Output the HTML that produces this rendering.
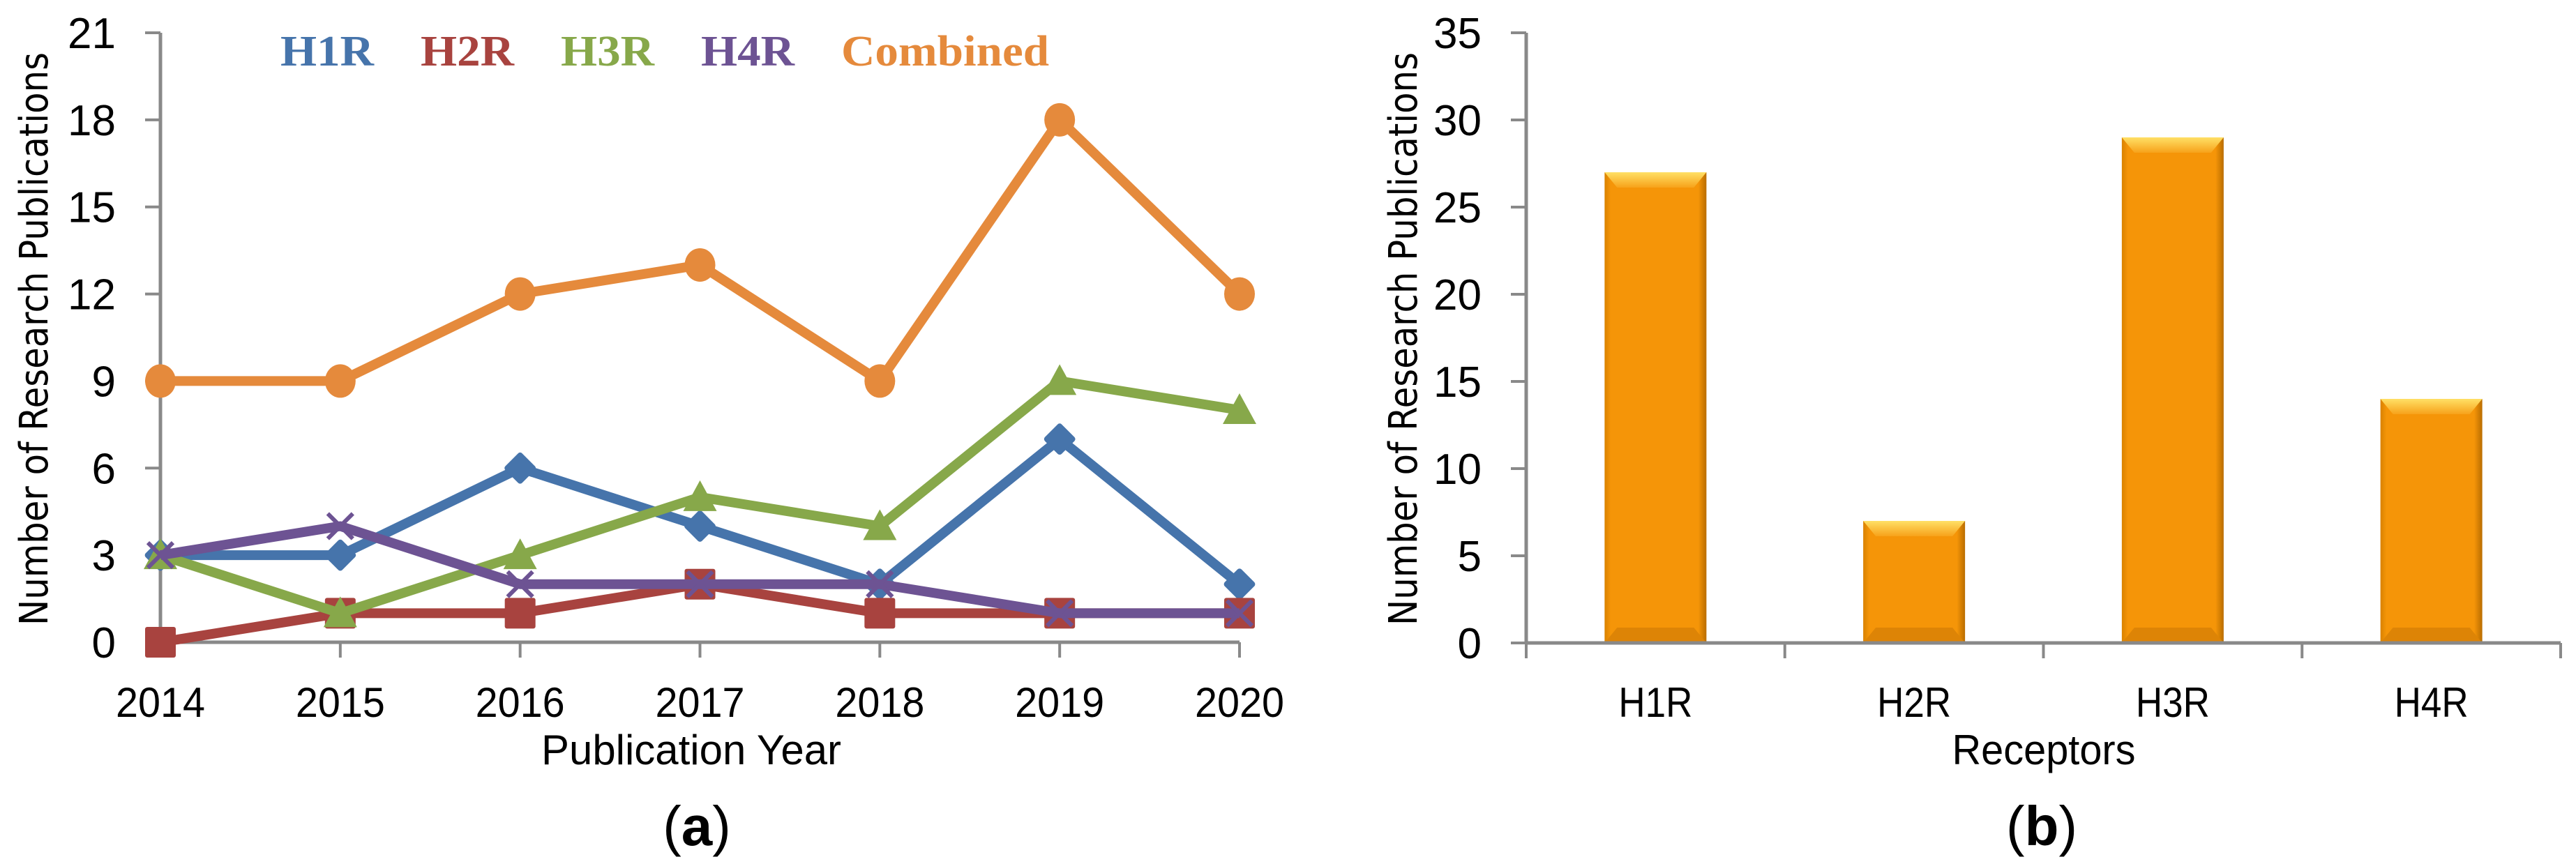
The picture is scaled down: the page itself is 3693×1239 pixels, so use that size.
<!DOCTYPE html>
<html><head><meta charset="utf-8"><style>
html,body{margin:0;padding:0;background:#fff;}
svg{display:block;}
</style></head><body>
<svg id="fig" width="3693" height="1239" viewBox="0 0 3693 1239" xmlns="http://www.w3.org/2000/svg">
<defs>
<linearGradient id="barH" x1="0" y1="0" x2="1" y2="0">
<stop offset="0" stop-color="#d98200"/><stop offset="0.06" stop-color="#f59508"/><stop offset="0.92" stop-color="#f59508"/><stop offset="1" stop-color="#b96d00"/>
</linearGradient>
<linearGradient id="barTop" x1="0" y1="0" x2="0" y2="1">
<stop offset="0" stop-color="#ffe066"/><stop offset="1" stop-color="#f7a21a"/>
</linearGradient>
</defs>
<g id="chartA"></g>
<g id="chartB"></g>
</svg>
<script>
const years = ["2014","2015","2016","2017","2018","2019","2020"];
const yTicksA = [0,3,6,9,12,15,18,21];
const h1r = [3,3,6,4,2,7,2];
const h2r = [0,1,1,2,1,1,1];
const h3r = [3,1,3,5,4,9,8];
const h4r = [3,4,2,2,2,1,1];
const combined = [9,9,12,13,9,18,12];
const seriesNames = ["H1R","H2R","H3R","H4R","Combined"];
const receptors = ["H1R","H2R","H3R","H4R"];
const receptorCounts = [27,7,29,14];
const yTicksB = [0,5,10,15,20,25,30,35];

const NS="http://www.w3.org/2000/svg";
function mk(parent, tag, attrs, text){
  const e=document.createElementNS(NS,tag);
  for(const k in attrs) e.setAttribute(k,attrs[k]);
  if(text!==undefined) e.textContent=text;
  parent.appendChild(e); return e;
}
const FONT='"Liberation Sans", sans-serif';

// ---------- Chart A ----------
const A=document.getElementById('chartA');
const ax0=230, ax1=1777, ay0=921, ayTop=47, aMax=21;
const xA=i=>ax0+(ax1-ax0)*i/(years.length-1);
const yA=v=>ay0-(ay0-ayTop)*v/aMax;
let e;
e=mk(A,'line',{x1:ax0,y1:ayTop,x2:ax0,y2:ay0,stroke:'#898989','stroke-width':5});


e=mk(A,'line',{x1:ax0,y1:ay0,x2:ax1,y2:ay0,stroke:'#898989','stroke-width':5});


yTicksA.forEach(v=>{
  e=mk(A,'line',{x1:ax0-22,y1:yA(v),x2:ax0,y2:yA(v),stroke:'#898989','stroke-width':4});
  
  
  e=mk(A,'text',{x:166,y:yA(v)+22,'text-anchor':'end','font-family':FONT,'font-size':62},String(v));
  
  
});
years.forEach((yr,i)=>{
  e=mk(A,'line',{x1:xA(i),y1:ay0,x2:xA(i),y2:ay0+22,stroke:'#898989','stroke-width':4});
  
  
  e=mk(A,'text',{x:xA(i),y:1028,'text-anchor':'middle','font-family':FONT,'font-size':60,textLength:128,lengthAdjust:'spacingAndGlyphs'},yr);
  
  
});
e=mk(A,'text',{x:68,y:486,transform:'rotate(-90 68 486)','text-anchor':'middle','font-family':'"DejaVu Sans", sans-serif','font-size':56,textLength:822,lengthAdjust:'spacingAndGlyphs'},'Number of Research Publications');


e=mk(A,'text',{x:991,y:1096,'text-anchor':'middle','font-family':FONT,'font-size':60,textLength:430,lengthAdjust:'spacingAndGlyphs'},'Publication Year');


e=mk(A,'text',{x:999,y:1212,'text-anchor':'middle','font-family':FONT,'font-size':80});


mk(e,'tspan',{},'(');mk(e,'tspan',{'font-weight':'bold'},'a');mk(e,'tspan',{},')');

const colors={H1R:'#4674ab',H2R:'#a8433f',H3R:'#87a84a',H4R:'#6d5393',Combined:'#e58a3c'};
const data={H1R:h1r,H2R:h2r,H3R:h3r,H4R:h4r,Combined:combined};
function marker(g,name,x,y,c){
  let m;
  if(name==='H1R') m=mk(g,'rect',{x:x-17,y:y-17,width:34,height:34,rx:4,fill:c,transform:`rotate(45 ${x} ${y})`});
  else if(name==='H2R') m=mk(g,'rect',{x:x-22,y:y-22,width:44,height:44,rx:3,fill:c});
  else if(name==='H3R') m=mk(g,'polygon',{points:`${x},${y-24} ${x+24},${y+20} ${x-24},${y+20}`,fill:c});
  else if(name==='H4R') m=mk(g,'path',{d:`M${x-18},${y-18}L${x+18},${y+18}M${x+18},${y-18}L${x-18},${y+18}`,stroke:c,'stroke-width':6,fill:'none'});
  else m=mk(g,'ellipse',{cx:x,cy:y,rx:22,ry:24,fill:c});
  
  
}
seriesNames.forEach(name=>{
  const vals=data[name], c=colors[name];
  const g=mk(A,'g',{});
  
  
  const pts=vals.map((v,i)=>xA(i)+','+yA(v)).join(' ');
  const pl=mk(g,'polyline',{points:pts,fill:'none',stroke:c,'stroke-width':14,'stroke-linejoin':'round'});
  
  
  vals.forEach((v,i)=>marker(g,name,xA(i),yA(v),c));
});
const legendX=[402,603,804,1005,1206];
seriesNames.forEach((name,i)=>{
  e=mk(A,'text',{x:legendX[i],y:94,'font-family':'"Liberation Serif", serif','font-weight':'bold','font-size':62,fill:colors[name],textLength:name==='Combined'?298:134,lengthAdjust:'spacingAndGlyphs'},name);
  
  
});

// ---------- Chart B ----------
const B=document.getElementById('chartB');
const bx0=2188, bx1=3671, by0=922, byTop=47, bMax=35;
const catW=(bx1-bx0)/receptors.length;
const yB=v=>by0-(by0-byTop)*v/bMax;
e=mk(B,'line',{x1:bx0,y1:byTop,x2:bx0,y2:by0,stroke:'#898989','stroke-width':5});


yTicksB.forEach(v=>{
  e=mk(B,'line',{x1:bx0-22,y1:yB(v),x2:bx0,y2:yB(v),stroke:'#898989','stroke-width':4});
  
  
  e=mk(B,'text',{x:2124,y:yB(v)+22,'text-anchor':'end','font-family':FONT,'font-size':62},String(v));
  
  
});
receptorCounts.forEach((v,i)=>{
  const cx=bx0+catW*(i+0.5), w=146, x=cx-w/2, y=yB(v), h=by0-y;
  const g=mk(B,'g',{});
  
  
  mk(g,'rect',{x:x,y:y,width:w,height:h,fill:'url(#barH)'});
  mk(g,'polygon',{points:`${x},${y} ${x+w},${y} ${x+w-18},${y+22} ${x+18},${y+22}`,fill:'url(#barTop)'});
  mk(g,'polygon',{points:`${x},${by0} ${x+w},${by0} ${x+w-18},${by0-22} ${x+18},${by0-22}`,fill:'#dd8406'});
  e=mk(B,'text',{x:cx,y:1028,'text-anchor':'middle','font-family':FONT,'font-size':60,textLength:106,lengthAdjust:'spacingAndGlyphs'},receptors[i]);
  
  
});
e=mk(B,'line',{x1:bx0,y1:by0,x2:bx1,y2:by0,stroke:'#898989','stroke-width':5});


for(let i=0;i<=receptors.length;i++){
  e=mk(B,'line',{x1:bx0+catW*i,y1:by0,x2:bx0+catW*i,y2:by0+22,stroke:'#898989','stroke-width':4});
  
  
}
e=mk(B,'text',{x:2031,y:486,transform:'rotate(-90 2031 486)','text-anchor':'middle','font-family':'"DejaVu Sans", sans-serif','font-size':56,textLength:822,lengthAdjust:'spacingAndGlyphs'},'Number of Research Publications');


e=mk(B,'text',{x:2930,y:1096,'text-anchor':'middle','font-family':FONT,'font-size':60,textLength:263,lengthAdjust:'spacingAndGlyphs'},'Receptors');


e=mk(B,'text',{x:2927,y:1212,'text-anchor':'middle','font-family':FONT,'font-size':80});


mk(e,'tspan',{},'(');mk(e,'tspan',{'font-weight':'bold'},'b');mk(e,'tspan',{},')');
</script>
</body></html>
